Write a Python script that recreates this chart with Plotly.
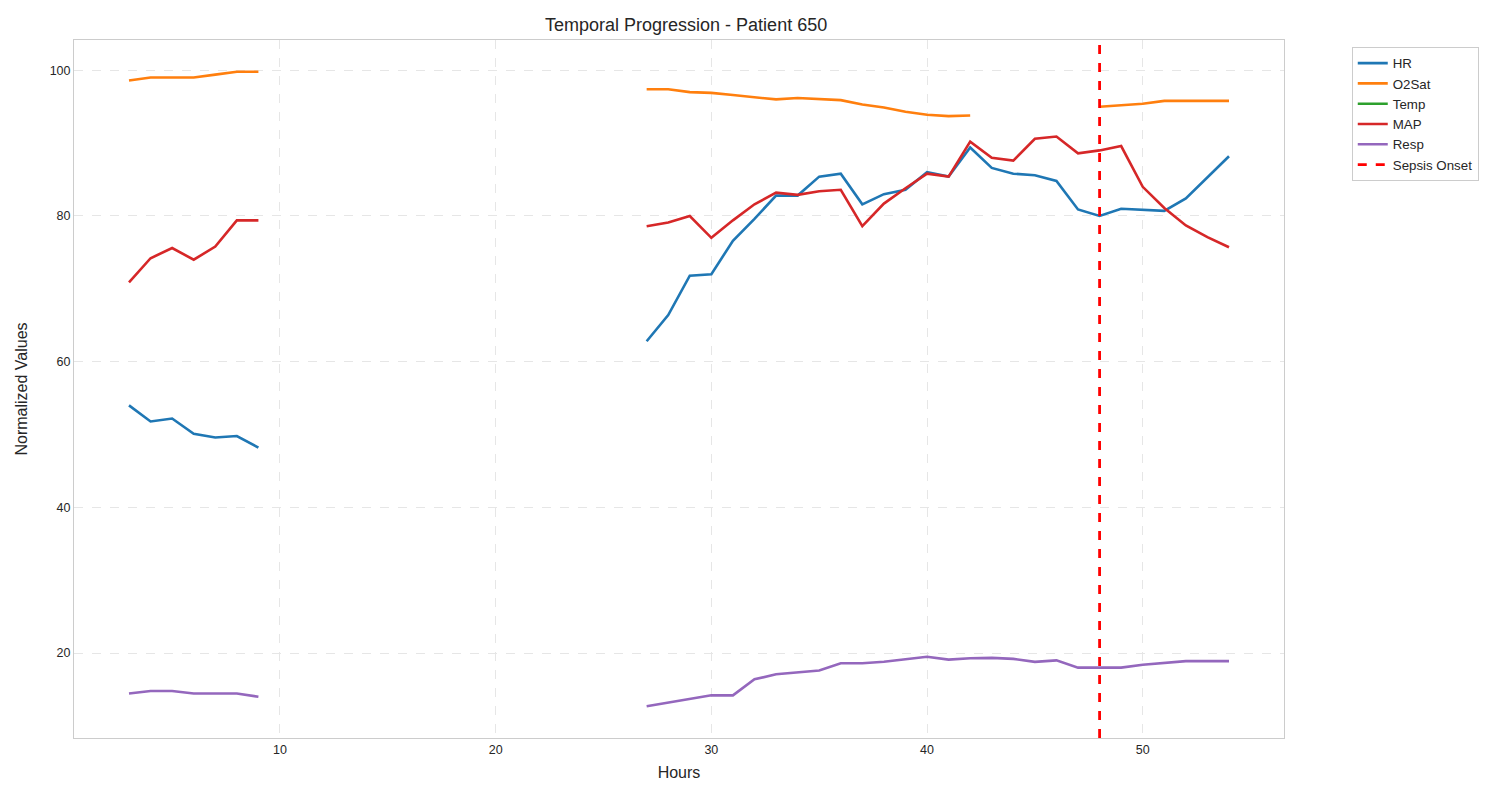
import plotly.graph_objects as go

hours = list(range(3, 55))

hr = ([54.0, 51.8, 52.2, 50.1, 49.6, 49.8, 48.2] + [None] * 17 +
      [62.8, 66.4, 71.8, 72.0, 76.6, 79.6, 82.8, 82.8, 85.4, 85.8, 81.6, 83.0, 83.6, 86.0, 85.4, 89.4,
       86.6, 85.8, 85.6, 84.8, 80.9, 80.0, 81.0, 80.9, 80.7, 82.4, 85.3, 88.2])
o2sat = ([98.6, 99.0, 99.0, 99.0, 99.4, 99.8, 99.8] + [None] * 17 +
         [97.4, 97.4, 97.0, 96.9, 96.6, 96.3, 96.0, 96.2, 96.0, 95.9, 95.3, 94.9, 94.3, 93.9, 93.7, 93.8] +
         [None] * 5 + [95.0, 95.2, 95.4, 95.8, 95.8, 95.8, 95.8])
temp = [None] * len(hours)
map_ = ([70.9, 74.2, 75.6, 74.0, 75.8, 79.4, 79.4] + [None] * 17 +
        [78.6, 79.1, 80.0, 77.0, 79.4, 81.6, 83.2, 82.9, 83.4, 83.6, 78.6, 81.7, 83.8, 85.8, 85.4,
         90.2, 88.0, 87.6, 90.6, 90.9, 88.6, 89.0, 89.6, 84.0, 81.1, 78.7, 77.1, 75.7])
resp = ([14.45, 14.8, 14.8, 14.45, 14.45, 14.45, 14.0] + [None] * 17 +
        [12.7, 13.2, 13.8, 14.2, 14.2, 16.4, 17.1, 17.4, 17.6, 18.6, 18.6, 18.8, 19.1, 19.5,
         19.1, 19.3, 19.35, 19.2, 18.8, 19.0, 18.0, 18.0, 18.0, 18.4, 18.6, 18.9, 18.9, 18.9])

series_names = ["HR", "O2Sat", "Temp", "MAP", "Resp"]
series_values = [hr, o2sat, temp, map_, resp]
series_colors = ["#1f77b4", "#ff7f0e", "#2ca02c", "#d62728", "#9467bd"]

sepsis_onset = 48
x_ticks = [10, 20, 30, 40, 50]
y_ticks = [20, 40, 60, 80, 100]

fig = go.Figure()
for name, vals, col in zip(series_names, series_values, series_colors):
    fig.add_trace(go.Scatter(x=hours, y=vals, mode="lines", name=name,
                             line=dict(color=col, width=2.6), connectgaps=False,
                             showlegend=True))

fig.add_trace(go.Scatter(x=[None], y=[None], mode="lines", name="Sepsis Onset",
                         line=dict(color="#ff0000", width=2.8, dash="dash")))
fig.add_shape(type="line", xref="x", yref="paper", x0=sepsis_onset, x1=sepsis_onset,
              y0=0, y1=1, line=dict(color="#ff0000", width=2.8, dash="dash"), layer="above")

# matplotlib-like 5% margins
all_vals = [v for s in series_values for v in s if v is not None]
ymin, ymax = min(all_vals), max(all_vals)
ypad = (ymax - ymin) * 0.05
xpad = (max(hours) - min(hours)) * 0.05

axis_common = dict(showline=True, linecolor="#cccccc", linewidth=1, mirror=True,
                   showgrid=True, gridcolor="#e6e6e6", griddash="dash", gridwidth=1,
                   zeroline=False, ticks="", tickfont=dict(size=12.5, color="#262626"))

fig.update_layout(
    width=1492, height=792,
    margin=dict(l=63, r=216, t=32, b=62),
    paper_bgcolor="white", plot_bgcolor="white",
    font=dict(family="Liberation Sans, Arial, sans-serif", color="#262626"),
    title=dict(text="Temporal Progression - Patient 650", x=0.4545, xanchor="center",
               y=0.979, yanchor="middle", font=dict(size=18, color="#262626")),
    xaxis=dict(range=[min(hours) - xpad, max(hours) + xpad], tickvals=x_ticks,
               title=dict(text="Hours", font=dict(size=16), standoff=10), **axis_common),
    yaxis=dict(range=[ymin - ypad, ymax + ypad], tickvals=y_ticks,
               title=dict(text="Normalized Values", font=dict(size=16), standoff=18), **axis_common),
    legend=dict(x=1.056, y=0.99, xanchor="left", yanchor="top",
                bordercolor="#cccccc", borderwidth=1, bgcolor="white",
                font=dict(size=13.3, color="#262626"), tracegroupgap=0),
)

fig.write_html("out.html")
